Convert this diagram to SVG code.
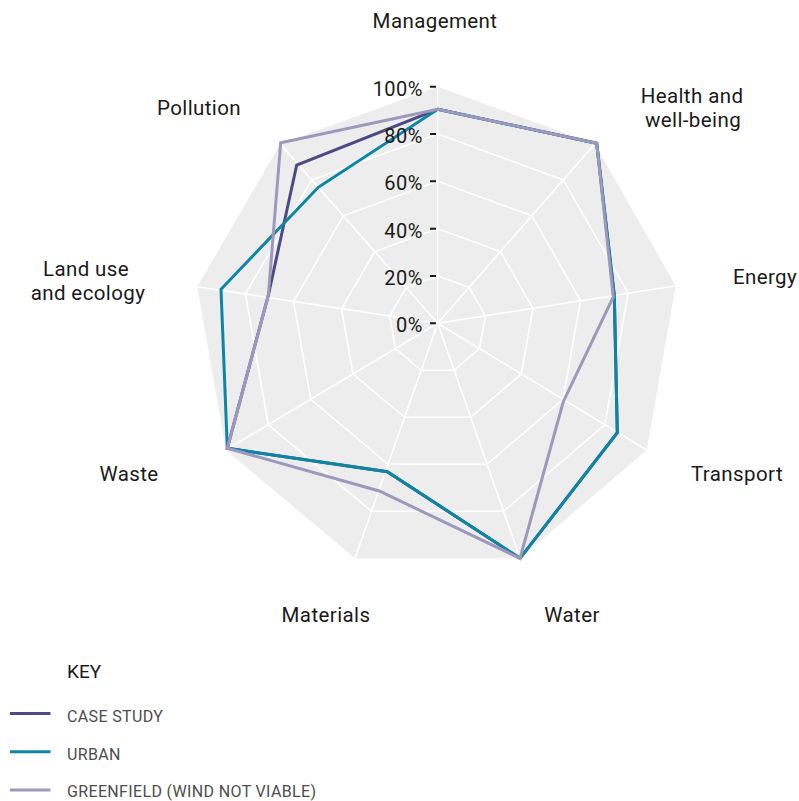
<svg xmlns="http://www.w3.org/2000/svg" width="799" height="801" viewBox="0 0 799 801">
<style>
.lbl{font-family:Roboto,"Liberation Sans",sans-serif;font-size:20.5px;letter-spacing:0.4px;fill:#1a1a1a;text-anchor:middle}
.tick{font-family:Roboto,"Liberation Sans",sans-serif;font-size:20px;letter-spacing:0.5px;fill:#1a1a1a;text-anchor:end}
.key{font-family:Roboto,"Liberation Sans",sans-serif;font-size:19px;fill:#1a1a1a}
.leg{font-family:Roboto,"Liberation Sans",sans-serif;font-size:16px;letter-spacing:0.35px;fill:#4d4d4d}
.grid{fill:none;stroke:#ffffff;stroke-width:1.6}
.ser{fill:none;stroke-width:3;stroke-linejoin:miter}
.case{stroke:#4a4b85}
.urban{stroke:#0d86a6}
.green{stroke:#9d99bd}
</style>
<rect width="799" height="801" fill="#ffffff"/>
<g id="grid">
<polygon points="437.7,86.7 594.7,144.1 675.7,285.7 646.7,450 520,558.3 355,558.3 226,450 197.3,286.7 280.3,144.1" fill="#ededed"/>
<polygon class="grid" points="437.7,276.0 469.1,287.5 485.3,315.8 479.5,348.6 454.2,370.3 421.2,370.3 395.4,348.6 389.6,316.0 406.2,287.5"/>
<polygon class="grid" points="437.7,228.7 500.5,251.6 532.9,308.3 521.3,374.0 470.6,417.3 404.6,417.3 353.0,374.0 341.5,308.7 374.7,251.6"/>
<polygon class="grid" points="437.7,181.3 531.9,215.8 580.5,300.7 563.1,399.3 487.1,464.3 388.1,464.3 310.7,399.3 293.5,301.3 343.3,215.8"/>
<polygon class="grid" points="437.7,134.0 563.3,179.9 628.1,293.2 604.9,424.7 503.5,511.3 371.5,511.3 268.3,424.7 245.4,294.0 311.8,179.9"/>
<path class="grid" d="M437.7,323.3L437.7,86.7M437.7,323.3L594.7,144.1M437.7,323.3L675.7,285.7M437.7,323.3L646.7,450M437.7,323.3L520,558.3M437.7,323.3L355,558.3M437.7,323.3L226,450M437.7,323.3L197.3,286.7M437.7,323.3L280.3,144.1"/>
</g>
<g id="series">
<polygon id="case-study" class="ser case" points="437.7,109.3 596.7,143.3 614.3,295.7 617.3,432.7 520,558.3 387.3,471.7 227.3,448.3 268.3,295.5 296.7,165"/>
<polygon id="urban" class="ser urban" points="437.7,109.3 596.7,143.3 614.3,295.7 617.3,432.7 520,558.3 387.3,471.7 227.3,448.3 221,289.3 318.3,187.3"/>
<polygon id="greenfield" class="ser green" points="437.7,109.3 596.7,143.3 613.3,297 563.3,401.7 520,558.3 379.3,491 227.3,448.3 268.3,295.5 280.7,142.7"/>
</g>
<g id="ticks">
<path d="M430,86.7H436M430,134H436M430,181.3H436M430,228.7H436M430,276H436M430,323.3H436" stroke="#1a1a1a" stroke-width="2"/>
<text class="tick" x="423" y="95.7">100%</text>
<text class="tick" x="423" y="143">80%</text>
<text class="tick" x="423" y="190.3">60%</text>
<text class="tick" x="423" y="237.7">40%</text>
<text class="tick" x="423" y="285">20%</text>
<text class="tick" x="423" y="332.3">0%</text>
</g>
<g id="labels">
<text id="lbl-management" class="lbl" x="435" y="28">Management</text>
<g id="lbl-health">
<text class="lbl" x="692" y="103">Health and</text>
<text class="lbl" x="693" y="127">well-being</text>
</g>
<text id="lbl-energy" class="lbl" x="765" y="284">Energy</text>
<text id="lbl-transport" class="lbl" x="737" y="481">Transport</text>
<text id="lbl-water" class="lbl" x="572" y="622">Water</text>
<text id="lbl-materials" class="lbl" x="326" y="622">Materials</text>
<text id="lbl-waste" class="lbl" x="129" y="481">Waste</text>
<g id="lbl-landuse">
<text class="lbl" x="86" y="276">Land use</text>
<text class="lbl" x="88" y="300">and ecology</text>
</g>
<text id="lbl-pollution" class="lbl" x="199" y="115">Pollution</text>
</g>
<g id="legend">
<text class="key" x="67" y="678.3">KEY</text>
<line x1="10" y1="713.5" x2="50.5" y2="713.5" class="ser case"/>
<text class="leg" x="67" y="721.7">CASE STUDY</text>
<line x1="10" y1="751.7" x2="50.5" y2="751.7" class="ser urban"/>
<text class="leg" x="67" y="760">URBAN</text>
<line x1="10" y1="790" x2="50.5" y2="790" class="ser green"/>
<text class="leg" x="67" y="796.5">GREENFIELD (WIND NOT VIABLE)</text>
</g>
</svg>
